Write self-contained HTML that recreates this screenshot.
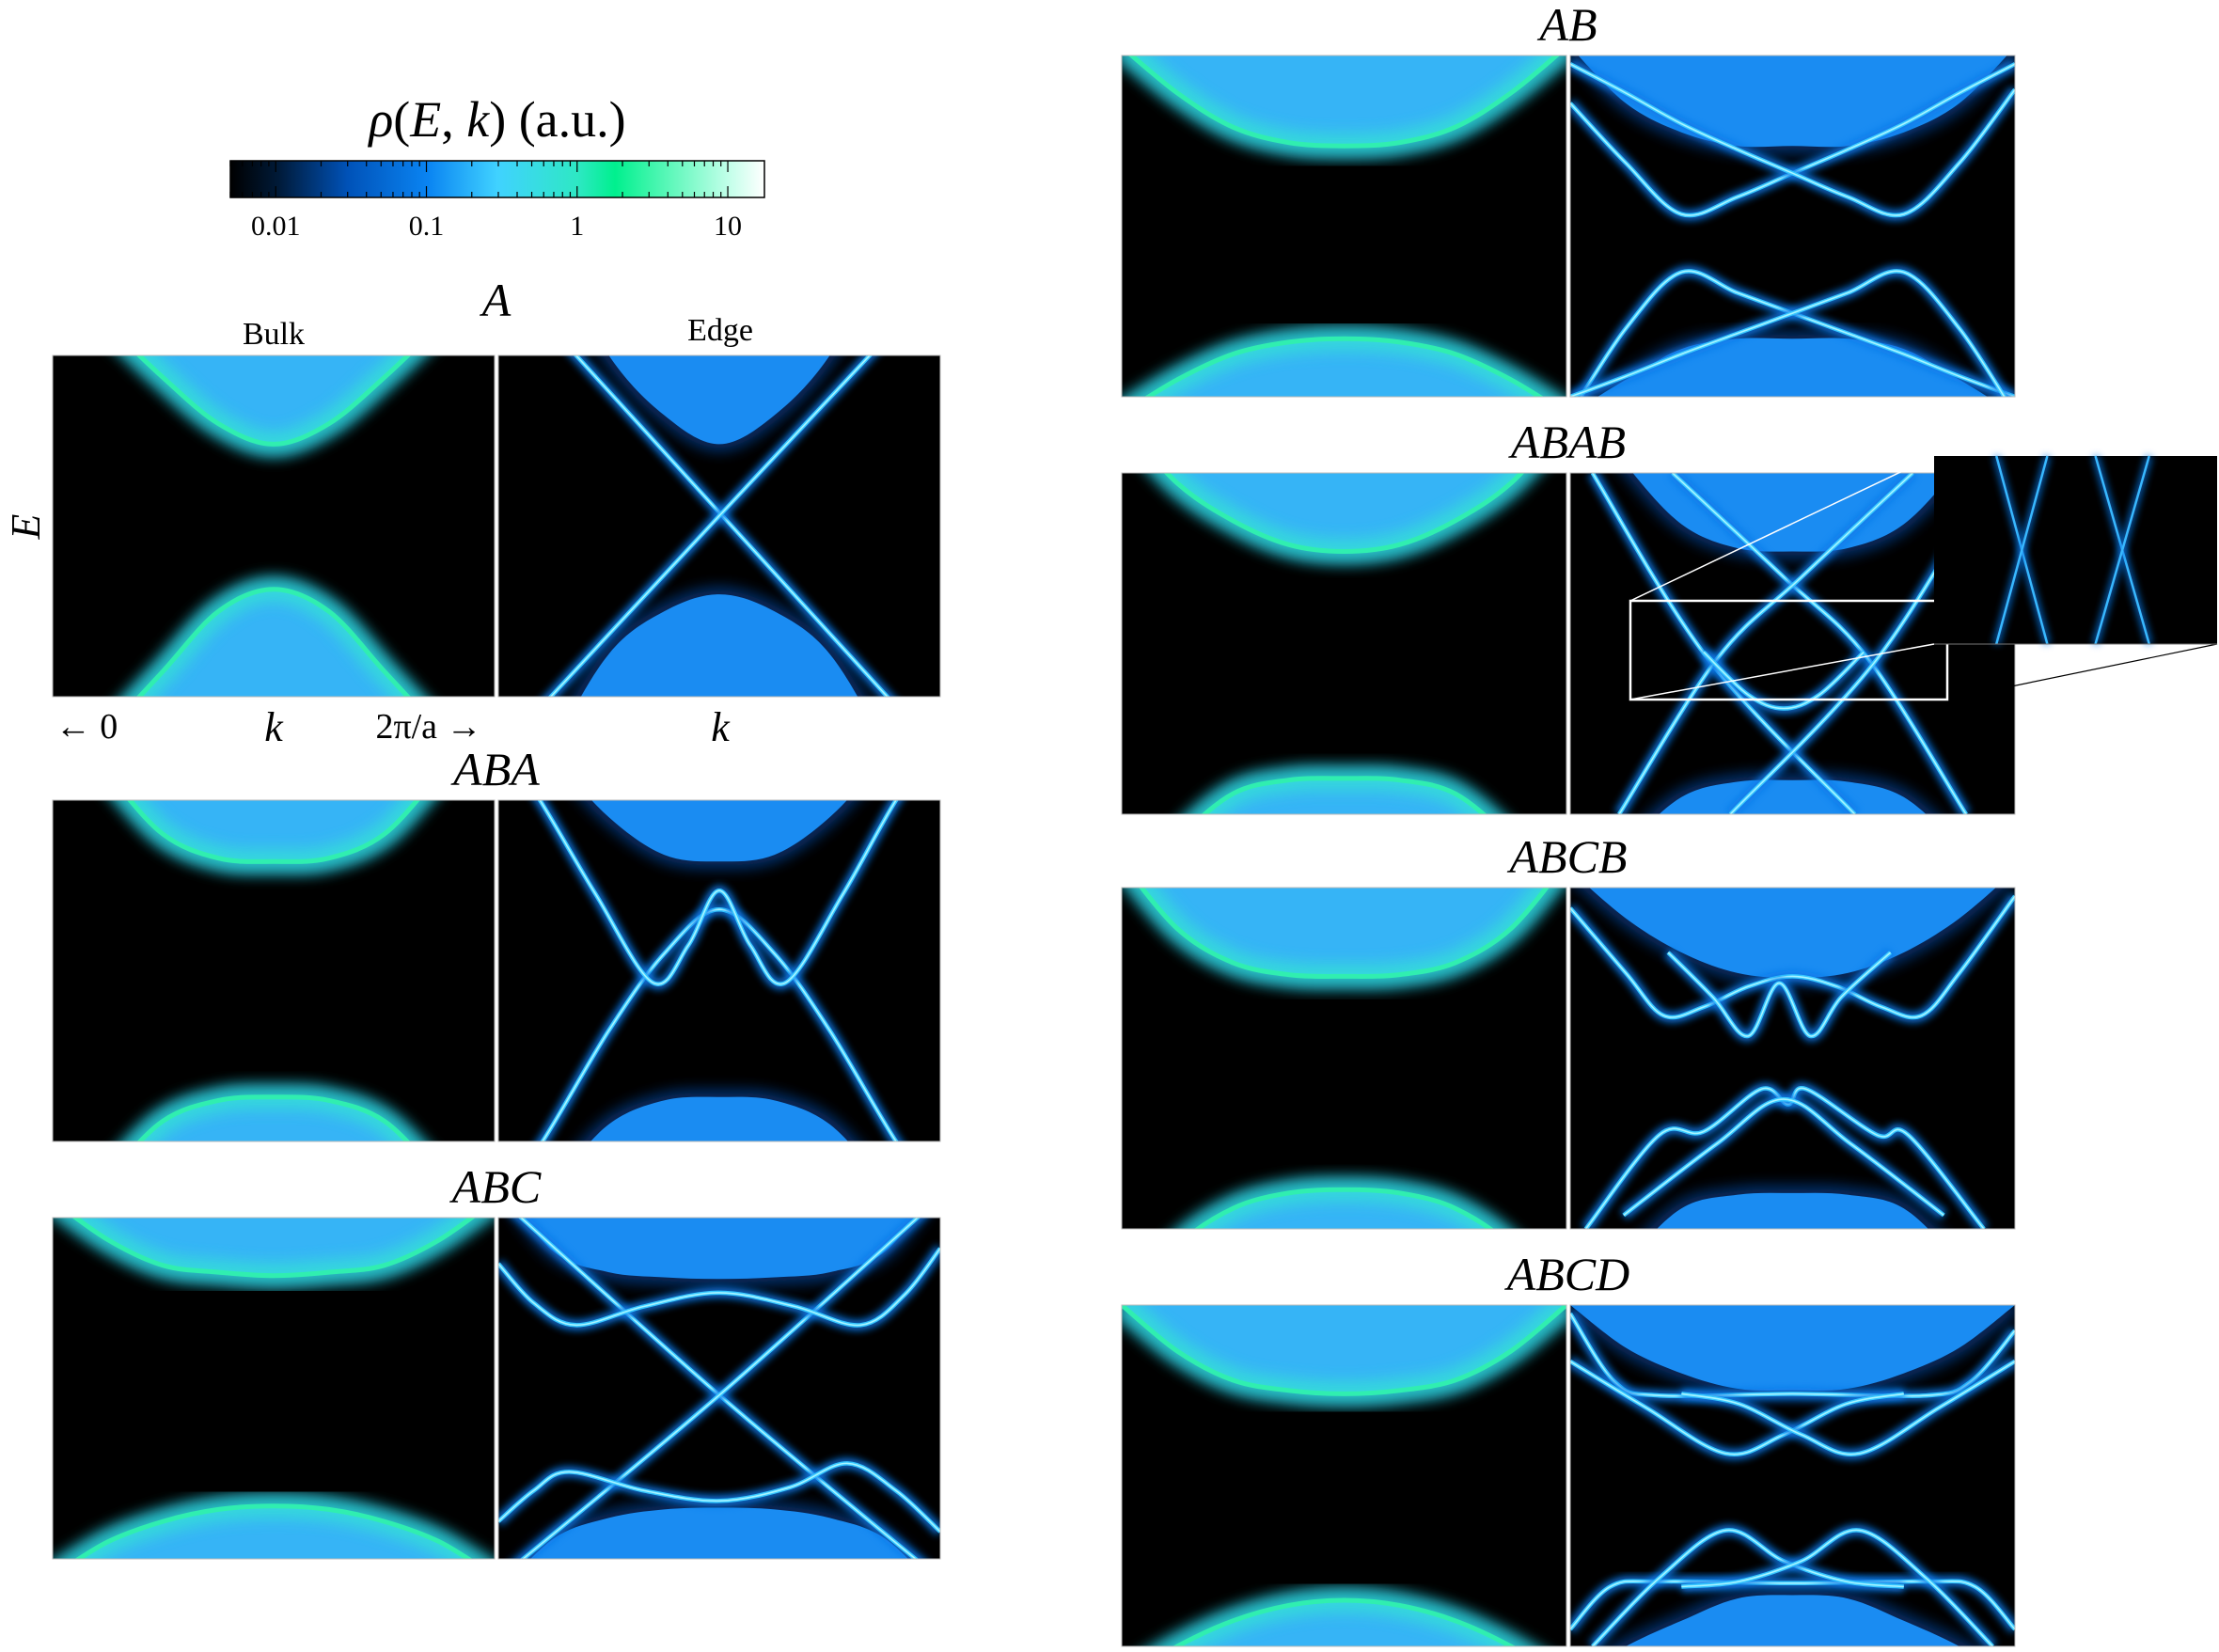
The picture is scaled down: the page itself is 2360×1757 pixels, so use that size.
<!DOCTYPE html>
<html><head><meta charset="utf-8">
<style>
html,body{margin:0;padding:0;background:#fff;}
body{width:2360px;height:1757px;overflow:hidden;position:relative;font-family:"Liberation Serif",serif;}
svg{position:absolute;left:0;top:0;}
</style></head>
<body>
<svg id="fig" width="2360" height="1757" viewBox="0 0 2360 1757" xmlns="http://www.w3.org/2000/svg">
<defs>
<filter id="glow" x="-20%" y="-20%" width="140%" height="140%"><feGaussianBlur stdDeviation="4"/></filter>
<filter id="glow2" x="-20%" y="-20%" width="140%" height="140%"><feGaussianBlur stdDeviation="8"/></filter>
<linearGradient id="cmap" x1="0" x2="1" y1="0" y2="0">
<stop offset="0" stop-color="#000000"/><stop offset="0.09" stop-color="#001a38"/>
<stop offset="0.22" stop-color="#0052b8"/><stop offset="0.37" stop-color="#0a84f2"/>
<stop offset="0.5" stop-color="#40d2ff"/><stop offset="0.65" stop-color="#2ee8c4"/>
<stop offset="0.72" stop-color="#00f08e"/><stop offset="0.93" stop-color="#bfffe8"/>
<stop offset="1" stop-color="#ffffff"/></linearGradient>
</defs>
<g id="layer"></g>
</svg>
<script>
// ---------- chart data (E in [-1,1], k in [0,1]) ----------
const K9 = [0,0.125,0.25,0.375,0.5,0.625,0.75,0.875,1];
const cbTicks = [0.01,0.1,1,10];
const cbTickLabels = ["0.01","0.1","1","10"];
const cbMin = 0.005, cbMax = 17.5;

const A_bulkUp = [1.5,1.18,0.87,0.6,0.48,0.6,0.87,1.18,1.5];
const A_bulkLo = [-1.55,-1.2,-0.85,-0.5,-0.37,-0.5,-0.85,-1.2,-1.55];
const A_edgeUp = [2.2,1.6,1.0,0.65,0.48,0.65,1.0,1.6,2.2];
const A_edgeLo = [-2,-1.3,-0.75,-0.5,-0.4,-0.5,-0.75,-1.3,-2];
const A_c1k = [0,0.5,1], A_c1E = [1.5,0.08,-1.34];
const A_c2k = [0,0.5,1], A_c2E = [-1.33,0.06,1.44];

const AB_bulkUp = [1.05,0.78,0.58,0.49,0.47,0.49,0.58,0.78,1.05];
const AB_bulkLo = [-1.1,-0.9,-0.75,-0.68,-0.66,-0.68,-0.75,-0.9,-1.1];
const AB_edgeUp = [1.05,0.72,0.55,0.47,0.47,0.47,0.55,0.72,1.05];
const AB_edgeLo = [-1.1,-0.9,-0.72,-0.66,-0.66,-0.66,-0.72,-0.9,-1.1];
const AB_c1E = [0.72,0.37,0.07,0.17,0.31,0.45,0.6,0.78,0.95];
const AB_c2E = [0.95,0.78,0.6,0.45,0.31,0.17,0.07,0.37,0.8];
const AB_c3E = [-1.1,-0.6,-0.27,-0.39,-0.51,-0.63,-0.75,-0.88,-1.0];
const AB_c4E = [-1.0,-0.88,-0.75,-0.63,-0.51,-0.39,-0.27,-0.6,-1.1];

const ABA_bulkUp = [1.5,1.15,0.8,0.66,0.64,0.66,0.8,1.15,1.5];
const ABA_bulkLo = [-1.5,-1.2,-0.88,-0.76,-0.74,-0.76,-0.88,-1.2,-1.5];
const ABA_edgeUp = [1.6,1.25,0.9,0.68,0.64,0.68,0.9,1.25,1.6];
const ABA_edgeLo = [-1.6,-1.25,-0.9,-0.76,-0.74,-0.76,-0.9,-1.25,-1.6];
const ABA_c1k = [0,0.1,0.25,0.375,0.5,0.625,0.75,0.9,1], ABA_c1E = [-1.35,-1,-0.35,0.1,0.36,0.1,-0.35,-1,-1.35];
const ABA_c2k = [0,0.094,0.22,0.35,0.43,0.5,0.57,0.65,0.78,0.9,1], ABA_c2E = [1.35,1,0.45,-0.07,0.15,0.47,0.15,-0.07,0.45,1,1.35];

const ABC_bulkUp = [1.1,0.87,0.72,0.68,0.66,0.68,0.72,0.87,1.1];
const ABC_bulkLo = [-1.1,-0.9,-0.78,-0.71,-0.69,-0.71,-0.78,-0.9,-1.1];
const ABC_edgeUp = [1.2,0.8,0.68,0.65,0.64,0.65,0.68,0.8,1.2];
const ABC_edgeLo = [-1.2,-0.88,-0.76,-0.71,-0.7,-0.71,-0.76,-0.88,-1.2];
const ABC_c1k = [0,0.5,1], ABC_c1E = [1.12,-0.04,-1.12];
const ABC_c2k = [0,0.5,1], ABC_c2E = [-1.12,-0.04,1.12];
const ABC_c3k = [0,0.08,0.175,0.33,0.5,0.67,0.82,0.92,1], ABC_c3E = [0.73,0.5,0.37,0.48,0.56,0.48,0.37,0.55,0.82];
const ABC_c4k = [0,0.08,0.16,0.33,0.5,0.66,0.79,0.9,1], ABC_c4E = [-0.78,-0.6,-0.49,-0.6,-0.66,-0.58,-0.44,-0.6,-0.84];

const ABAB_bulkUp = [1.3,0.94,0.72,0.58,0.54,0.58,0.72,0.94,1.3];
const ABAB_bulkLo = [-1.5,-1.15,-0.88,-0.8,-0.79,-0.8,-0.88,-1.15,-1.5];
const ABAB_edgeUp = [1.5,1.05,0.7,0.56,0.54,0.56,0.7,1.05,1.5];
const ABAB_edgeLo = [-1.6,-1.2,-0.9,-0.81,-0.8,-0.81,-0.9,-1.2,-1.6];
const ABAB_c1k = [0.05,0.31,0.64], ABAB_c1E = [1,-0.09,-1];
const ABAB_c2k = [0.23,0.48,0.67,0.89], ABAB_c2E = [1,0.39,-0.09,-1];
const ABAB_c3k = [0.36,0.69,0.95], ABAB_c3E = [-1,-0.09,1];
const ABAB_c4k = [0.11,0.33,0.52,0.77], ABAB_c4E = [-1,-0.09,0.39,1];
const ABAB_c5k = [0.3,0.4,0.48,0.56,0.66], ABAB_c5E = [-0.05,-0.3,-0.38,-0.3,-0.05];

const ABCB_bulkUp = [1.15,0.76,0.56,0.49,0.48,0.49,0.56,0.76,1.15];
const ABCB_bulkLo = [-1.5,-1.1,-0.88,-0.79,-0.77,-0.79,-0.88,-1.1,-1.5];
const ABCB_edgeUp = [1.1,0.82,0.62,0.5,0.47,0.5,0.62,0.82,1.1];
const ABCB_edgeLo = [-1.6,-1.2,-0.88,-0.8,-0.79,-0.8,-0.88,-1.2,-1.6];
const ABCB_c1k = [0,0.125,0.21,0.3,0.4,0.5,0.6,0.7,0.79,0.875,1], ABCB_c1E = [0.88,0.5,0.25,0.3,0.42,0.48,0.42,0.3,0.25,0.5,0.95];
const ABCB_c2k = [0.22,0.32,0.4,0.47,0.54,0.61,0.72], ABCB_c2E = [0.62,0.36,0.13,0.44,0.13,0.36,0.62];
const ABCB_c3k = [0.035,0.2,0.3,0.43,0.49,0.53,0.69,0.76,0.93], ABCB_c3E = [-1,-0.45,-0.43,-0.18,-0.27,-0.18,-0.45,-0.45,-1];
const ABCB_c4k = [0.12,0.33,0.48,0.63,0.84], ABCB_c4E = [-0.92,-0.5,-0.24,-0.5,-0.92];

const ABCD_bulkUp = [1.0,0.73,0.56,0.5,0.48,0.5,0.56,0.73,1.0];
const ABCD_bulkLo = [-1.2,-1.0,-0.85,-0.76,-0.73,-0.76,-0.85,-1.0,-1.2];
const ABCD_edgeUp = [1.0,0.75,0.6,0.51,0.5,0.51,0.6,0.75,1.0];
const ABCD_edgeLo = [-1.2,-1.0,-0.85,-0.72,-0.7,-0.72,-0.85,-1.0,-1.2];
const ABCD_c1k = [0,0.1,0.2,0.5,0.8,0.9,1], ABCD_c1E = [0.95,0.55,0.47,0.48,0.47,0.55,0.85];
const ABCD_c2k = [0,0.17,0.35,0.48,0.62,0.75], ABCD_c2E = [0.67,0.4,0.13,0.24,0.42,0.48];
const ABCD_c3k = [0.25,0.38,0.52,0.65,0.83,1], ABCD_c3E = [0.48,0.42,0.24,0.13,0.4,0.67];
const ABCD_c4k = [0,0.09,0.2,0.5,0.8,0.91,1], ABCD_c4E = [-0.9,-0.65,-0.62,-0.63,-0.62,-0.65,-0.9];
const ABCD_c5k = [0.05,0.2,0.35,0.48,0.62,0.75], ABCD_c5E = [-1,-0.6,-0.32,-0.5,-0.62,-0.65];
const ABCD_c6k = [0.25,0.38,0.52,0.65,0.8,0.95], ABCD_c6E = [-0.65,-0.62,-0.5,-0.32,-0.6,-1];

// inset (zoomed region) lines, normalized inset coords
const inset_topX = [0.22,0.4,0.57,0.76];
const inset_botX = [0.4,0.22,0.76,0.57];

// ---------- drawing ----------
const NS = "http://www.w3.org/2000/svg";
const layer = document.getElementById('layer');
const defs = document.querySelector('defs');
let clipId = 0;
function el(tag, attrs, parent){
  const e = document.createElementNS(NS, tag);
  for (const k in attrs) e.setAttribute(k, attrs[k]);
  (parent||layer).appendChild(e);
  return e;
}
function makeAxes(x0,y0,w,h){
  return {x: k => x0 + k*w, y: E => y0 + (1-E)/2*h};
}
function smoothPath(ks, Es, ax){
  const p = ks.map((k,i)=>[ax.x(k), ax.y(Es[i])]);
  let d = "M"+p[0][0].toFixed(1)+","+p[0][1].toFixed(1);
  for (let i=0;i<p.length-1;i++){
    const p0=p[Math.max(0,i-1)], p1=p[i], p2=p[i+1], p3=p[Math.min(p.length-1,i+2)];
    const c1=[p1[0]+(p2[0]-p0[0])/6, p1[1]+(p2[1]-p0[1])/6];
    const c2=[p2[0]-(p3[0]-p1[0])/6, p2[1]-(p3[1]-p1[1])/6];
    d += " C"+c1[0].toFixed(1)+","+c1[1].toFixed(1)+" "+c2[0].toFixed(1)+","+c2[1].toFixed(1)+" "+p2[0].toFixed(1)+","+p2[1].toFixed(1);
  }
  return {d, p};
}
function panel(name, x0, y0, w, h, kind, up, lo, curves){
  const g = el('g', {});
  
  
  const id = 'clip' + (clipId++);
  const cp = el('clipPath', {id}, defs);
  el('rect', {x:x0, y:y0, width:w, height:h}, cp);
  el('rect', {x:x0, y:y0, width:w, height:h, fill:'#000'}, g);
  const inner = el('g', {'clip-path':'url(#'+id+')'}, g);
  const ax = makeAxes(x0,y0,w,h);
  const bulk = kind === 'bulk';
  const fill = bulk ? '#36b4f6' : '#1a8cf2';
  const edgeCol = bulk ? '#30eeb0' : '#2aa8f8';
  [[up, y0-50],[lo, y0+h+50]].forEach(([arr, yEdge], idx)=>{
    const s = smoothPath(K9, arr, ax);
    const area = s.d + " L"+(x0+w)+","+yEdge+" L"+x0+","+yEdge+" Z";
    const glowE = el('path', {d:s.d, fill:'none', stroke: bulk ? '#1488e8' : '#0a50b0', 'stroke-width': bulk?20:12, filter:'url(#glow2)', opacity:0.85}, inner);
    
    
    const a = el('path', {d:area, fill:fill}, inner);
    
    
    if (bulk){
      const inn = el('path', {d:s.d, fill:'none', stroke:'#36e8d0', 'stroke-width':26, filter:'url(#glow2)', opacity:0.7}, inner);
      
      
      const ln = el('path', {d:s.d, fill:'none', stroke:edgeCol, 'stroke-width':5}, inner);
      
      
    }
  });
  curves.forEach(([ks,Es], i)=>{
    const s = smoothPath(ks, Es, ax);
    const g1 = el('path', {d:s.d, fill:'none', stroke:'#0a78e8', 'stroke-width':12, filter:'url(#glow)', opacity:0.85}, inner);
    
    
    const l = el('path', {d:s.d, fill:'none', stroke:'#38c8ff', 'stroke-width':4.5}, inner);
    
    
    const c = el('path', {d:s.d, fill:'none', stroke:'#a8f4ff', 'stroke-width':1.6}, inner);
    
    
  });
  el('rect', {x:x0, y:y0, width:w, height:h, fill:'none', stroke:'#bbb', 'stroke-width':1}, g);
  return ax;
}
function text(str, x, y, size, opts){
  const t = el('text', Object.assign({x, y, 'font-size':size, 'text-anchor':'middle', 'font-family':'"Liberation Serif", serif', fill:'#000'}, opts||{}));
  t.textContent = str;
  return t;
}
function stack(name, xL, xR, y0, w, h, d, titleY){
  const t = text(name, (xL + xR + w)/2, titleY || (y0-16), 50, {'font-style':'italic'});
  
  
  panel(name, xL, y0, w, h, 'bulk', d.bu, d.bl, []);
  return panel(name, xR, y0, w, h, 'edge', d.eu, d.el, d.c);
}

// left column
stack('A', 56, 530, 378, 470, 363, {bu:A_bulkUp, bl:A_bulkLo, eu:A_edgeUp, el:A_edgeLo, c:[[A_c1k,A_c1E],[A_c2k,A_c2E]]}, 336);
stack('ABA', 56, 530, 851, 470, 363, {bu:ABA_bulkUp, bl:ABA_bulkLo, eu:ABA_edgeUp, el:ABA_edgeLo, c:[[ABA_c1k,ABA_c1E],[ABA_c2k,ABA_c2E]]});
stack('ABC', 56, 530, 1295, 470, 363, {bu:ABC_bulkUp, bl:ABC_bulkLo, eu:ABC_edgeUp, el:ABC_edgeLo, c:[[ABC_c1k,ABC_c1E],[ABC_c2k,ABC_c2E],[ABC_c3k,ABC_c3E],[ABC_c4k,ABC_c4E]]});
// right column
stack('AB', 1193, 1670, 59, 473, 363, {bu:AB_bulkUp, bl:AB_bulkLo, eu:AB_edgeUp, el:AB_edgeLo, c:[[K9,AB_c1E],[K9,AB_c2E],[K9,AB_c3E],[K9,AB_c4E]]});
stack('ABAB', 1193, 1670, 503, 473, 363, {bu:ABAB_bulkUp, bl:ABAB_bulkLo, eu:ABAB_edgeUp, el:ABAB_edgeLo, c:[[ABAB_c1k,ABAB_c1E],[ABAB_c2k,ABAB_c2E],[ABAB_c3k,ABAB_c3E],[ABAB_c4k,ABAB_c4E],[ABAB_c5k,ABAB_c5E]]});
stack('ABCB', 1193, 1670, 944, 473, 363, {bu:ABCB_bulkUp, bl:ABCB_bulkLo, eu:ABCB_edgeUp, el:ABCB_edgeLo, c:[[ABCB_c1k,ABCB_c1E],[ABCB_c2k,ABCB_c2E],[ABCB_c3k,ABCB_c3E],[ABCB_c4k,ABCB_c4E]]});
stack('ABCD', 1193, 1670, 1388, 473, 363, {bu:ABCD_bulkUp, bl:ABCD_bulkLo, eu:ABCD_edgeUp, el:ABCD_edgeLo, c:[[ABCD_c1k,ABCD_c1E],[ABCD_c2k,ABCD_c2E],[ABCD_c3k,ABCD_c3E],[ABCD_c4k,ABCD_c4E],[ABCD_c5k,ABCD_c5E],[ABCD_c6k,ABCD_c6E]]});

// zoom box + inset
const zg = el('g', {});


el('line', {x1:1734, y1:639, x2:2057, y2:485, stroke:'#fff', 'stroke-width':1.5}, zg);
el('line', {x1:1734, y1:744, x2:2057, y2:685, stroke:'#fff', 'stroke-width':1.5}, zg);
el('line', {x1:2071, y1:744, x2:2358, y2:685, stroke:'#000', 'stroke-width':1.2}, zg);
const zr = el('rect', {x:1734, y:639, width:337, height:105, fill:'none', stroke:'#fff', 'stroke-width':2.5}, zg);


el('rect', {x:2057, y:485, width:301, height:200, fill:'#000'}, zg);
const ix0 = 2057, iy0 = 485, iw = 301, ih = 200;
inset_topX.forEach((tx, i)=>{
  const bx = inset_botX[i];
  el('line', {x1:ix0+tx*iw, y1:iy0, x2:ix0+bx*iw, y2:iy0+ih, stroke:'#0a78e8', 'stroke-width':7, filter:'url(#glow)', opacity:0.8}, zg);
  const l = el('line', {x1:ix0+tx*iw, y1:iy0, x2:ix0+bx*iw, y2:iy0+ih, stroke:'#38b8ff', 'stroke-width':2.5}, zg);
  
  
});
el('line', {x1:2057, y1:685, x2:2358, y2:685, stroke:'#777', 'stroke-width':1}, zg);

// colorbar
const cbX0 = 245, cbX1 = 813, cbY = 171, cbH = 39;
const cbg = el('g', {});


el('rect', {x:cbX0, y:cbY, width:cbX1-cbX0, height:cbH, fill:'url(#cmap)', stroke:'#000', 'stroke-width':1.5}, cbg);
const cbx = v => cbX0 + (Math.log10(v)-Math.log10(cbMin))/(Math.log10(cbMax)-Math.log10(cbMin))*(cbX1-cbX0);
for (let dec=-3; dec<=1; dec++){
  for (let m=1; m<10; m++){
    const v = m*Math.pow(10,dec);
    if (v < cbMin || v > cbMax) continue;
    const L = m===1 ? 12 : 6;
    el('line', {x1:cbx(v), y1:cbY, x2:cbx(v), y2:cbY+L, stroke:'#000', 'stroke-width':1.2}, cbg);
    el('line', {x1:cbx(v), y1:cbY+cbH, x2:cbx(v), y2:cbY+cbH-L, stroke:'#000', 'stroke-width':1.2}, cbg);
  }
}
cbTicks.forEach((v,i)=>{
  const t = text(cbTickLabels[i], cbx(v), 250, 30);
  
  
});
const cbt = text('', 529, 145, 54);
cbt.innerHTML = '<tspan font-style="italic">ρ</tspan>(<tspan font-style="italic">E</tspan>, <tspan font-style="italic">k</tspan>)  (a.u.)';



// axis labels
let t;
t = text('Bulk', 291, 366, 34);  
t = text('Edge', 766, 362, 34);  
t = text('E', 0, 0, 44, {'font-style':'italic', transform:'translate(42,560) rotate(-90)'});  
t = text('← 0', 92, 785, 38);  
t = text('k', 291, 788, 44, {'font-style':'italic'});  
t = text('2π/a →', 456, 785, 38);  
t = text('k', 766, 788, 44, {'font-style':'italic'});  
</script>
</body></html>
